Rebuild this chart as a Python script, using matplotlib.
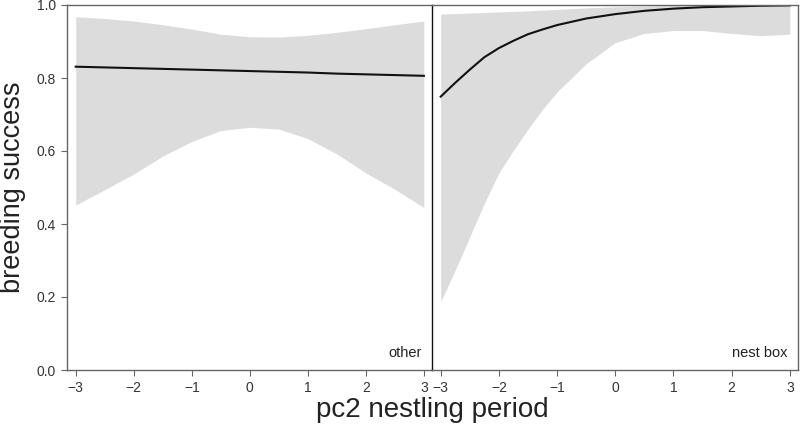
import numpy as np
import matplotlib
matplotlib.use("Agg")
import matplotlib.pyplot as plt
import matplotlib.transforms as mtransforms

plt.rcParams['font.family'] = ['Liberation Sans', 'DejaVu Sans']

# panel "other" (pc2 read every 0.5)
other_x = [-3, -2.5, -2, -1.5, -1, -0.5, 0, 0.5, 1, 1.5, 2, 2.5, 3]
other_fit = [0.831, 0.829, 0.827, 0.825, 0.823, 0.821, 0.819, 0.817, 0.815, 0.812, 0.810, 0.808, 0.806]
other_hi = [0.968, 0.963, 0.956, 0.946, 0.934, 0.920, 0.913, 0.912, 0.917, 0.925, 0.935, 0.946, 0.956]
other_lo = [0.452, 0.494, 0.537, 0.586, 0.626, 0.656, 0.665, 0.660, 0.634, 0.592, 0.540, 0.495, 0.445]

# panel "nest box" (finer where the curve bends)
box_x = [-3, -2.75, -2.5, -2.25, -2, -1.75, -1.5, -1.25, -1, -0.5, 0, 0.5, 1, 1.5, 2, 2.5, 3]
box_fit = [0.749, 0.787, 0.823, 0.857, 0.882, 0.902, 0.920, 0.933, 0.945, 0.963, 0.975, 0.984,
           0.990, 0.994, 0.996, 0.998, 0.999]
box_hi = [0.975, 0.9765, 0.978, 0.9795, 0.981, 0.9825, 0.984, 0.986, 0.988, 0.992, 0.995, 0.997,
          0.999, 0.9995, 1.0, 1.0, 1.0]
box_lo = [0.187, 0.274, 0.365, 0.457, 0.540, 0.602, 0.660, 0.714, 0.762, 0.839, 0.897, 0.922,
          0.930, 0.930, 0.922, 0.916, 0.920]

panels = [("other", other_x, other_fit, other_lo, other_hi),
          ("nest box", box_x, box_fit, box_lo, box_hi)]

fig = plt.figure(figsize=(8, 4.33), dpi=100)
W, H = 800., 433.
y0, y1 = (H - 370) / H, (H - 5) / H
ax1 = fig.add_axes([67 / W, y0, (432 - 67) / W, y1 - y0])
ax2 = fig.add_axes([432 / W, y0, (798 - 432) / W, y1 - y0])

for ax, (name, xs, fit, lo, hi) in zip([ax1, ax2], panels):
    ax.fill_between(xs, lo, hi, color='#dcdcdc', linewidth=0)
    ax.plot(xs, fit, color='#111111', lw=1.5)
    ax.set_ylim(0, 1)
    ax.set_xlim(-3.15, 3.14)
    ax.set_xticks([-3, -2, -1, 0, 1, 2, 3])
    for s in ax.spines.values():
        s.set_color('#666666')
        s.set_linewidth(1.0)
    ax.tick_params(length=4.5, width=0.8, color='#666666', labelcolor='#333333',
                   labelsize=10, pad=3.5)
    trans = mtransforms.blended_transform_factory(ax.transData, ax.transAxes)
    ax.text(2.96, 0.035, name, transform=trans, ha='right', va='baseline',
            fontsize=10.5, color='#222222')

ax1.set_yticks([0, 0.2, 0.4, 0.6, 0.8, 1.0])
ax1.set_yticklabels(['0.0', '0.2', '0.4', '0.6', '0.8', '1.0'])
ax1.spines['right'].set_visible(False)
# the shared divider between panels is darker
ax2.spines['left'].set_color('#111111')
ax2.tick_params(axis='y', left=False, labelleft=False)

fig.text(13 / W, 0.567, 'breeding success', rotation=90, ha='center', va='center',
         fontsize=19.5, color='#222222')
fig.text(432 / W, 1 - 410 / H, 'pc2 nestling period', ha='center', va='center',
         fontsize=20, color='#222222')

fig.savefig('out.png', dpi=100)
